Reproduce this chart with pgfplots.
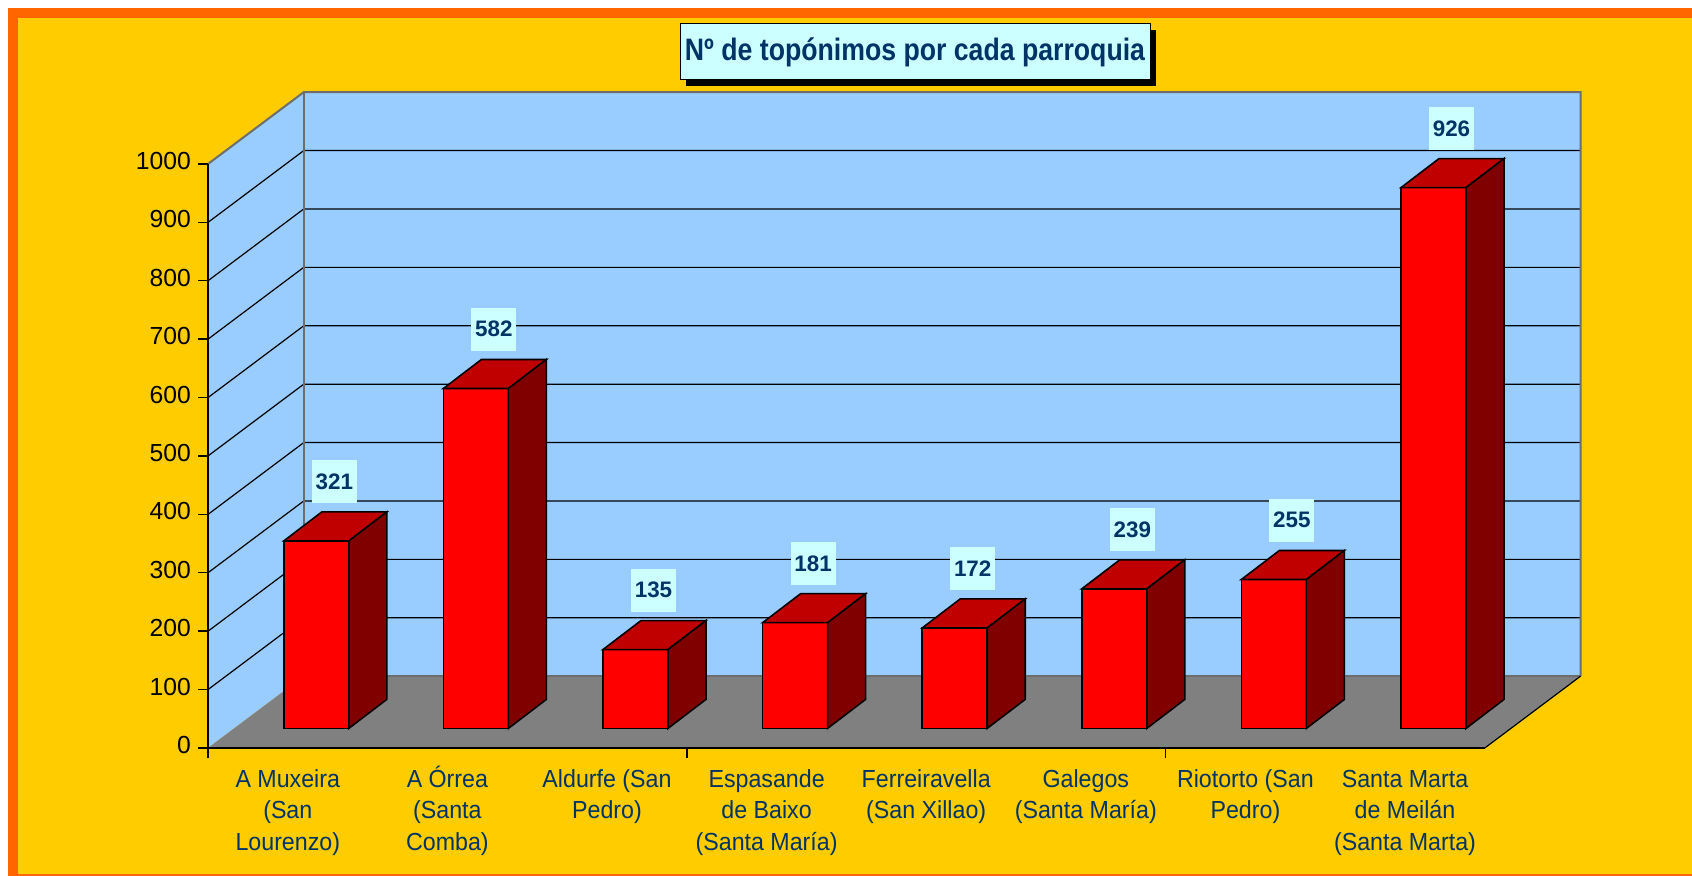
\documentclass[border=0pt]{standalone}
\usepackage{fontspec}
\setmainfont{Liberation Sans}
\newfontfamily\narrowsans{Liberation Sans}[FakeStretch=0.94]
\newfontfamily\titlesans{Liberation Sans}[FakeStretch=0.86]
\usepackage{pgfplots}
\usepackage{pgfplotstable}
\pgfplotsset{compat=1.18}
\usetikzlibrary{shadows}

\definecolor{frameorange}{HTML}{FF6600}
\definecolor{chartyellow}{HTML}{FFCC00}
\definecolor{wallblue}{HTML}{99CCFF}
\definecolor{floorgray}{HTML}{808080}
\definecolor{frontred}{HTML}{FF0000}
\definecolor{topred}{HTML}{C00000}
\definecolor{sidered}{HTML}{800000}
\definecolor{labelcyan}{HTML}{CCFFFF}
\definecolor{navy}{HTML}{003366}

% top and side face of a column, drawn at the data point (front axis plane)
\newdimen\barh \newdimen\barlo \newdimen\barbk
\pgfdeclareplotmark{cube3d}{%
  \barh=\barval pt \barh=0.292\barh
  \barlo=9.8pt \advance\barlo by -\barh
  \barbk=24.3pt \advance\barbk by -\barh
  \pgfsetlinewidth{0.8pt}\pgfsetstrokecolor{black}\pgfsetmiterjoin
  \pgfpathmoveto{\pgfqpoint{-2pt}{9.8pt}}
  \pgfpathlineto{\pgfqpoint{30.5pt}{9.8pt}}
  \pgfpathlineto{\pgfqpoint{49.5pt}{24.3pt}}
  \pgfpathlineto{\pgfqpoint{17pt}{24.3pt}}
  \pgfpathclose
  \pgfsetfillcolor{topred}\pgfusepath{fill,stroke}
  \pgfpathmoveto{\pgfqpoint{30.5pt}{9.8pt}}
  \pgfpathlineto{\pgfqpoint{49.5pt}{24.3pt}}
  \pgfpathlineto{\pgfqpoint{49.5pt}{\barbk}}
  \pgfpathlineto{\pgfqpoint{30.5pt}{\barlo}}
  \pgfpathclose
  \pgfsetfillcolor{sidered}\pgfusepath{fill,stroke}
}

\pgfplotstableread{
x   v
0.5 321
1.5 582
2.5 135
3.5 181
4.5 172
5.5 239
6.5 255
7.5 926
}\parroquias

\begin{document}
\begin{tikzpicture}
\fill[white] (0,0) rectangle (846pt,438pt);
\fill[frameorange] (4pt,0) rectangle (846pt,434pt);
\fill[chartyellow] (9pt,1pt) rectangle (846pt,429pt);

\begin{axis}[
  at={(104pt,64pt)}, anchor=south west,
  x=79.8pt, y=0.292pt,
  xmin=0, xmax=8, ymin=0, ymax=1000,
  enlargelimits=false, clip=false, axis on top,
  axis x line*=bottom, axis y line*=left,
  axis line style={black, line width=0.7pt, -},
  tick align=outside, major tick length=5pt, minor tick length=5pt,
  ytick={0,100,...,1000},
  ytick style={black, line width=0.7pt},
  xtick={0.5,1.5,...,7.5},
  xticklabels={
    A Muxeira\\(San\\Lourenzo),
    A Órrea\\(Santa\\Comba),
    Aldurfe (San\\Pedro),
    Espasande\\de Baixo\\(Santa María),
    Ferreiravella\\(San Xillao),
    Galegos\\(Santa María),
    Riotorto (San\\Pedro),
    Santa Marta\\de Meilán\\(Santa Marta)},
  major x tick style={draw=none},
  minor xtick={0,3,6},
  minor x tick style={draw=black, line width=0.7pt},
  /pgf/number format/assume math mode=true,
  /pgf/number format/1000 sep={},
  scaled y ticks=false,
  yticklabel style={font=\fontsize{12.35}{14}\selectfont, text=black},
  xticklabel style={font=\narrowsans\fontsize{12.35}{15.8}\selectfont, text=navy, align=center, anchor=north},
  typeset ticklabels with strut,
]
% walls and floor
\fill[wallblue] (0.6,123) rectangle (8.6,1123);
\fill[wallblue] (0,0) -- (0.6,123) -- (0.6,1123) -- (0,1000) -- cycle;
\fill[floorgray] (0,0) -- (8,0) -- (8.6,123) -- (0.6,123) -- cycle;
\pgfplotsinvokeforeach{100,200,...,900}{
  \draw[black, line width=0.6pt] (0,#1) -- (0.6,#1+123) -- (8.6,#1+123);
}
\draw[floorgray!85!black, line width=1pt] (0,1000) -- (0.6,1123) -- (8.6,1123) -- (8.6,123);
\draw[floorgray!85!black, line width=1pt] (0.6,123) -- (0.6,1123);
\draw[floorgray!85!black, line width=0.8pt] (0.6,123) -- (8.6,123);
\draw[black, line width=0.6pt] (8,0) -- (8.6,123);

% front faces
\addplot[ybar, bar width=32.5pt, bar shift=14.25pt, yshift=9.8pt,
  fill=frontred, draw=black, line width=0.8pt] table[x=x, y=v] {\parroquias};
% top and side faces, value labels
\addplot[scatter, only marks, mark=cube3d,
  visualization depends on={rawy \as \barval},
  nodes near coords,
  every node near coord/.append style={anchor=south, xshift=23.25pt, yshift=28.3pt,
    fill=labelcyan, text=navy, font=\bfseries\fontsize{11.2}{13}\selectfont,
    inner sep=0pt, minimum width=22.5pt, minimum height=21.5pt}]
  table[x=x, y=v] {\parroquias};
\end{axis}

\node[draw=black, line width=0.5pt, fill=labelcyan, minimum width=235pt, minimum height=28pt,
  inner sep=0pt, font=\titlesans\bfseries\fontsize{15.5}{18}\selectfont, text=navy,
  drop shadow={shadow xshift=3pt, shadow yshift=-3pt, fill=black, opacity=1}]
  at (457.5pt,412pt) {Nº de topónimos por cada parroquia};

\pgfresetboundingbox
\useasboundingbox (0,0) rectangle (846pt,438pt);
\end{tikzpicture}
\end{document}
